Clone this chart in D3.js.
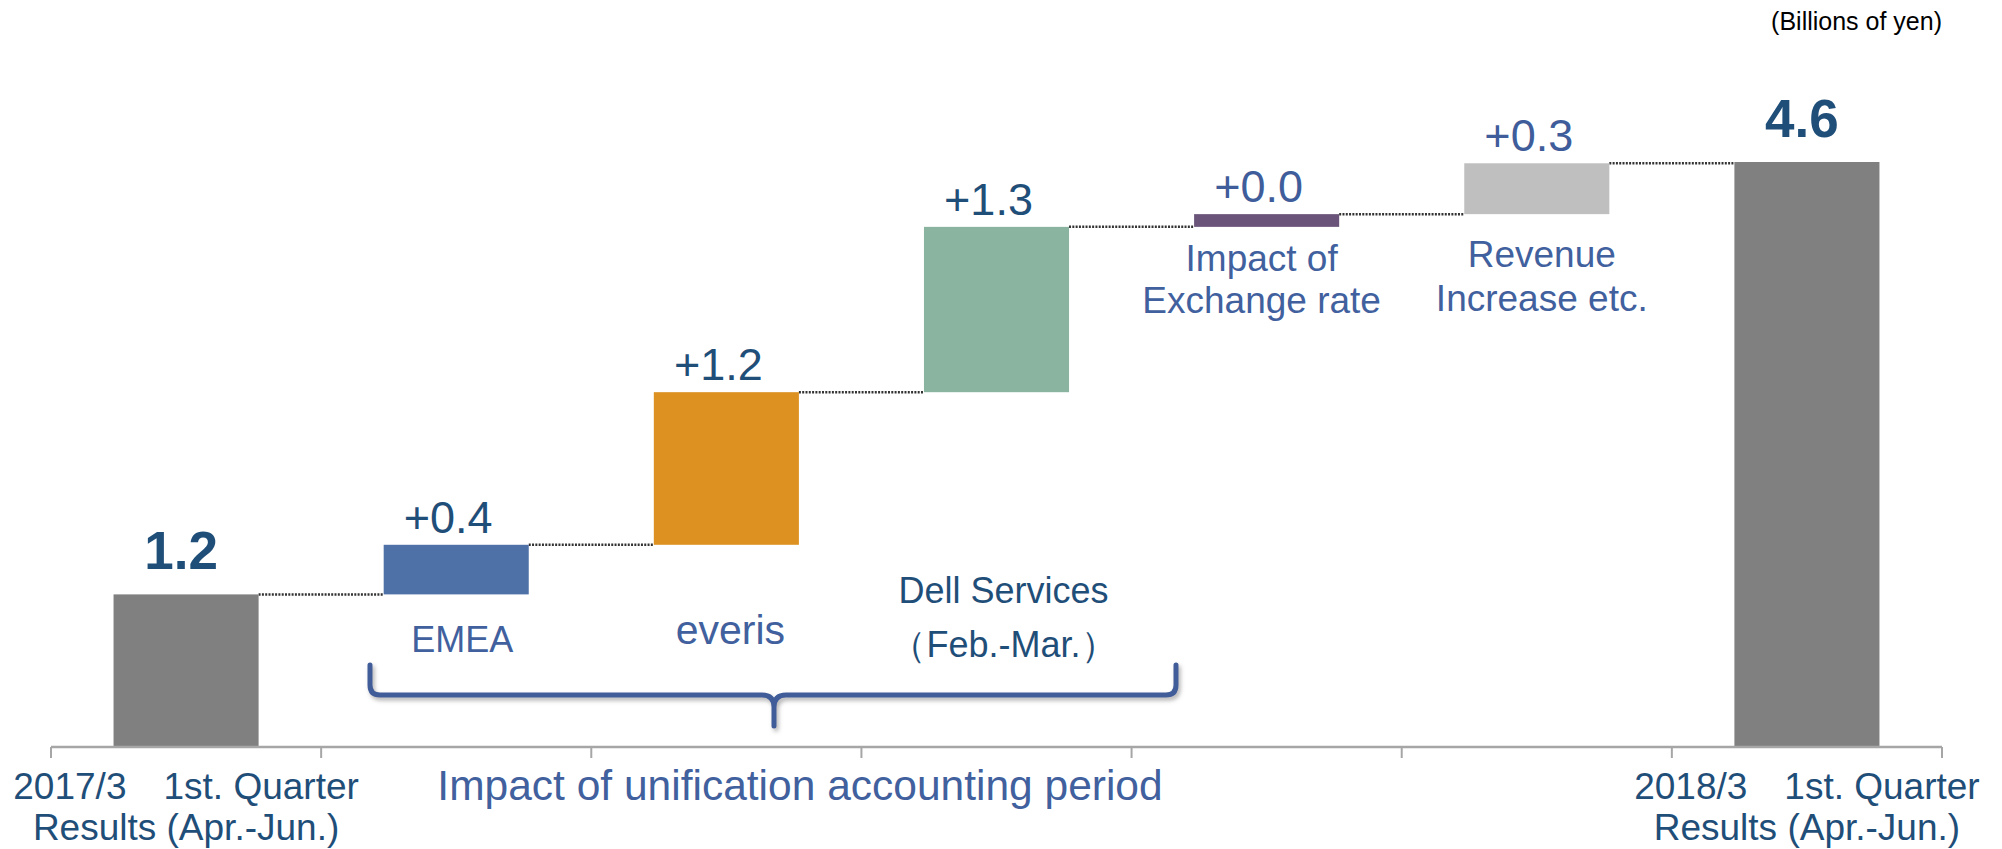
<!DOCTYPE html>
<html>
<head>
<meta charset="utf-8">
<script src="https://cdn.jsdelivr.net/npm/d3@7"></script>
<style>
  html, body { margin: 0; padding: 0; background: #ffffff; }
  svg { display: block; font-family: "Liberation Sans", Arial, sans-serif; }
</style>
</head>
<body>
<svg id="chart" width="2002" height="849"></svg>
<script>
// ---------------- DATA ----------------
const categories = ["2017/3 Q1", "EMEA", "everis", "Dell Services", "Exchange rate", "Revenue increase", "2018/3 Q1"];
const barKinds   = ["total", "delta", "delta", "delta", "delta", "delta", "total"];
const barValues  = [1.2, 0.39, 1.2, 1.3, 0.1, 0.4, 4.6];
const valueLabels = ["1.2", "+0.4", "+1.2", "+1.3", "+0.0", "+0.3", "4.6"];
const tickLabelFirst = ["2017/3\u30001st. Quarter", "Results (Apr.-Jun.)"];
const tickLabelLast  = ["2018/3\u30001st. Quarter", "Results (Apr.-Jun.)"];
const unitLabel = "(Billions of yen)";
const groupLabel = "Impact of unification accounting period";
const catNotes = [
  { cat: "EMEA", lines: ["EMEA"] },
  { cat: "everis", lines: ["everis"] },
  { cat: "Dell Services", lines: ["Dell Services", "\uFF08Feb.-Mar.\uFF09"] },
  { cat: "Exchange rate", lines: ["Impact of", "Exchange rate"] },
  { cat: "Revenue increase", lines: ["Revenue", "Increase etc."] }
];

// ---------------- STYLE / LAYOUT ----------------
const barColors = ["#808080", "#4E71A8", "#DC9120", "#8AB4A0", "#6A5479", "#BFBFBF", "#808080"];
const labelColors = ["#1F4E79", "#1F4E79", "#1F4E79", "#1F4E79", "#3F5D9A", "#3F5D9A", "#1F4E79"];
const noteStyle = {
  "EMEA":             { size: 36, color: "#41609E", y: [652], dx: 6 },
  "everis":           { size: 41, color: "#41609E", y: [644], dx: 4 },
  "Dell Services":    { size: 36, color: "#1F4E79", y: [603, 657], dx: 7 },
  "Exchange rate":    { size: 37, color: "#41609E", y: [271, 313], dx: -5 },
  "Revenue increase": { size: 37, color: "#41609E", y: [267, 311], dx: 5 }
};

const svg = d3.select("#chart");
const axisY = 747;
const x = d3.scaleBand().domain(categories).range([51, 1942]).padding(0);
const y = d3.scaleLinear().domain([0, 4.6]).range([axisY, 162]);
const bw = x.bandwidth();
const barW = bw * 0.537;

// compute waterfall extents
let running = 0;
const bars = categories.map((c, i) => {
  let lo, hi;
  if (barKinds[i] === "total") { lo = 0; hi = barValues[i]; running = hi; }
  else { lo = running; hi = running + barValues[i]; running = hi; }
  return { cat: c, lo, hi, i };
});

// defs: shadow
const defs = svg.append("defs");
const f = defs.append("filter").attr("id", "shadow").attr("x", "-5%").attr("y", "-50%").attr("width", "110%").attr("height", "200%");
f.append("feDropShadow").attr("dx", 2).attr("dy", 3).attr("stdDeviation", 2)
  .attr("flood-color", "#808080").attr("flood-opacity", 0.6);

// connectors
const conn = svg.append("g");
for (let i = 0; i < bars.length - 1; i++) {
  const x1 = x(bars[i].cat) + (bw + barW) / 2;
  const x2 = x(bars[i + 1].cat) + (bw - barW) / 2;
  const yy = y(bars[i].hi);
  conn.append("line")
    .attr("x1", x1).attr("x2", x2).attr("y1", yy).attr("y2", yy)
    .attr("stroke", "#333333").attr("stroke-width", 2.5)
    .attr("stroke-dasharray", "2 1.3");
}

// bars
svg.append("g").selectAll("rect").data(bars).join("rect")
  .attr("x", d => x(d.cat) + (bw - barW) / 2)
  .attr("width", barW)
  .attr("y", d => y(d.hi))
  .attr("height", d => y(d.lo) - y(d.hi))
  .attr("fill", (d, i) => barColors[i]);

// value labels
svg.append("g").selectAll("text").data(bars).join("text")
  .attr("x", d => x(d.cat) + bw / 2 + (barKinds[d.i] === "total" ? -5 : -8))
  .attr("y", d => y(d.hi) - (barKinds[d.i] === "total" ? 25 : 12))
  .attr("text-anchor", "middle")
  .attr("font-size", d => barKinds[d.i] === "total" ? 53 : 45)
  .attr("font-weight", d => barKinds[d.i] === "total" ? "bold" : "normal")
  .attr("fill", d => labelColors[d.i])
  .text(d => valueLabels[d.i]);

// axis
const axisG = svg.append("g");
const bounds = categories.map(c => x(c)).concat([x.range()[1]]);
axisG.append("line").attr("x1", x.range()[0]).attr("x2", x.range()[1])
  .attr("y1", axisY).attr("y2", axisY).attr("stroke", "#A6A6A6").attr("stroke-width", 2.5);
axisG.selectAll("line.tick").data(bounds).join("line").attr("class", "tick")
  .attr("x1", d => d).attr("x2", d => d).attr("y1", axisY).attr("y2", axisY + 11)
  .attr("stroke", "#A6A6A6").attr("stroke-width", 2);

function tickLabel(cat, lines) {
  const t = axisG.append("text").attr("text-anchor", "middle")
    .attr("font-size", 37).attr("fill", "#1F4E79");
  lines.forEach((ln, k) => {
    t.append("tspan").attr("x", x(cat) + bw / 2).attr("y", 799 + k * 41).text(ln);
  });
}
tickLabel(categories[0], tickLabelFirst);
tickLabel(categories[categories.length - 1], tickLabelLast);

// category notes
catNotes.forEach(n => {
  const s = noteStyle[n.cat];
  const t = svg.append("text").attr("text-anchor", "middle")
    .attr("font-size", s.size).attr("fill", s.color);
  n.lines.forEach((ln, k) => {
    t.append("tspan").attr("x", x(n.cat) + bw / 2 + s.dx).attr("y", s.y[k]).text(ln);
  });
});

// brace
const bl = 370, br = 1176, bm = 774, bt = 665, bh = 695, bb = 726;
const r = 10;
const bracePath = `M${bl},${bt} V${bh - r} Q${bl},${bh} ${bl + r},${bh} H${bm - 12} Q${bm},${bh} ${bm},${bh + 12} V${bb}
  M${bm},${bh + 12} Q${bm},${bh} ${bm + 12},${bh} H${br - r} Q${br},${bh} ${br},${bh - r} V${bt}`;
svg.append("path").attr("d", bracePath).attr("fill", "none")
  .attr("stroke", "#3F5D9A").attr("stroke-width", 5)
  .attr("stroke-linecap", "round").attr("stroke-linejoin", "round")
  .attr("filter", "url(#shadow)");

// group label
svg.append("text").attr("x", 800).attr("y", 800).attr("text-anchor", "middle")
  .attr("font-size", 42.5).attr("fill", "#41609E").text(groupLabel);

// unit label
svg.append("text").attr("x", 1942).attr("y", 30).attr("text-anchor", "end")
  .attr("font-size", 25).attr("fill", "#000000").text(unitLabel);
</script>
</body>
</html>
